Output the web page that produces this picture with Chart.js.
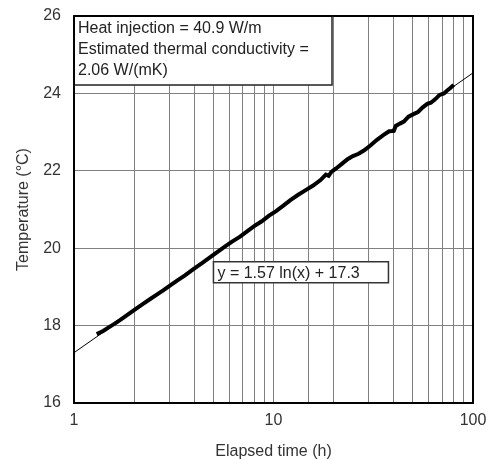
<!DOCTYPE html>
<html>
<head>
<meta charset="utf-8">
<script src="https://cdn.jsdelivr.net/npm/chart.js@4.4.0/dist/chart.umd.min.js"></script>
<style>
  body { margin: 0; background: #fff; }
  #wrap { width: 489px; height: 459px; }
</style>
</head>
<body>
<div id="wrap"><canvas id="myChart"></canvas></div>
<script>
// measured temperature vs elapsed time
var timeH = [1.3, 1.4, 1.5, 1.6, 1.7, 1.8, 2.0, 2.2, 2.4, 2.6, 2.8, 3.0, 3.3, 3.6, 4.0, 4.4, 4.8, 5.2, 5.7, 6.2,
	6.8, 7.4, 8.0, 8.7, 9.5, 10.3, 11.2, 12.2, 13.3, 14.5, 15.8, 17.2, 18.3, 18.9, 19.5, 20.6, 22.0, 23.5, 25.0, 26.7,
	28.5, 30.7, 33, 35.5, 38, 40.1, 41, 43, 45, 47.5, 50.6, 53, 56, 59, 61.5, 65, 68, 71.5, 74, 77, 80];
var tempC = [17.78, 17.86, 17.96, 18.05, 18.14, 18.23, 18.40, 18.55, 18.68, 18.80, 18.91, 19.02, 19.17, 19.30, 19.47, 19.62, 19.76, 19.89, 20.04, 20.17,
	20.30, 20.44, 20.57, 20.69, 20.84, 20.96, 21.10, 21.25, 21.38, 21.50, 21.62, 21.76, 21.90, 21.87, 21.97, 22.06, 22.18, 22.30, 22.38, 22.44,
	22.53, 22.66, 22.80, 22.92, 23.02, 23.03, 23.16, 23.22, 23.27, 23.40, 23.47, 23.52, 23.64, 23.73, 23.76, 23.86, 23.96, 24.00, 24.07, 24.14, 24.22];

// fitted trend y = 1.57 ln(x) + 17.3, end points
var fitX = [1, 100];
var fitY = [17.3, 24.53];

var yTicks = [16, 18, 20, 22, 24, 26];
var xLabels = [1, 10, 100];

var infoLines = ["Heat injection = 40.9 W/m", "Estimated thermal conductivity =", "2.06 W/(mK)"];
var eqText = "y = 1.57 ln(x) + 17.3";

var FONT = "'Liberation Sans', Arial, sans-serif";

function toPoints(xs, ys) {
	var pts = [];
	for (var i = 0; i < xs.length; i++) {
		pts.push({x: xs[i], y: ys[i]});
	}
	return pts;
}

var boxes = {
	id: 'boxes',
	beforeDraw: function(chart) {
		var c = chart.ctx;
		c.save();
		c.fillStyle = '#fff';
		c.fillRect(0, 0, chart.width, chart.height);
		c.restore();
	},
	afterDraw: function(chart) {
		var c = chart.ctx, a = chart.chartArea;
		var xs = chart.scales.x, ys = chart.scales.y;
		c.save();
		// frame of plot area
		c.strokeStyle = '#000';
		c.lineWidth = 2;
		c.strokeRect(a.left, a.top, a.right - a.left, a.bottom - a.top);

		c.font = '16px ' + FONT;
		c.textBaseline = 'middle';
		c.textAlign = 'left';

		// info box, top left corner
		var w = 258, h = 69;
		c.fillStyle = '#fff';
		c.fillRect(a.left, a.top, w, h);
		c.strokeStyle = '#222';
		c.lineWidth = 1.5;
		c.strokeRect(a.left, a.top, w, h);
		c.lineWidth = 2;
		c.strokeStyle = '#000';
		c.beginPath();
		c.moveTo(a.left, a.top); c.lineTo(a.left, a.top + h);
		c.moveTo(a.left, a.top); c.lineTo(a.left + w, a.top);
		c.stroke();
		c.fillStyle = '#222';
		for (var i = 0; i < infoLines.length; i++) {
			c.fillText(infoLines[i], a.left + 4, a.top + 13 + i * 21);
		}

		// equation label
		var ex = xs.getPixelForValue(5.0), ey = ys.getPixelForValue(19.65);
		var ew = 175, eh = 21;
		c.fillStyle = '#fff';
		c.fillRect(ex, ey, ew, eh);
		c.strokeStyle = '#333';
		c.lineWidth = 1.5;
		c.strokeRect(ex, ey, ew, eh);
		c.fillStyle = '#222';
		c.fillText(eqText, ex + 4, ey + eh / 2 + 1);
		c.restore();
	}
};

var ctx = document.getElementById('myChart');

var myChart = new Chart(ctx, {
	type: 'line',
	data: {
		datasets: [
			{
				label: 'Measured',
				data: toPoints(timeH, tempC),
				borderColor: '#000',
				borderWidth: 4,
				pointRadius: 0,
				tension: 0,
				fill: false
			},
			{
				label: 'Fit',
				data: toPoints(fitX, fitY),
				borderColor: '#000',
				borderWidth: 1,
				pointRadius: 0,
				tension: 0,
				fill: false
			}
		]
	},
	options: {
		responsive: true,
		maintainAspectRatio: false,
		animation: false,
		devicePixelRatio: 1,
		layout: {padding: {left: 0, right: 16, top: 16, bottom: 0}},
		plugins: {
			legend: {display: false},
			tooltip: {enabled: false}
		},
		scales: {
			x: {
				type: 'logarithmic',
				min: 1,
				max: 100,
				afterFit: function(s) {
					s.height = 56;
					s.paddingLeft = 0;
					s.paddingRight = 0;
				},
				grid: {color: '#808080', lineWidth: 1, drawTicks: false},
				border: {color: '#000', width: 2},
				ticks: {
					autoSkip: false,
					maxRotation: 0,
					padding: 8,
					color: '#333',
					font: {family: FONT, size: 16},
					callback: function(v) {
						return xLabels.indexOf(v) >= 0 ? String(v) : '';
					}
				},
				title: {
					display: true,
					text: 'Elapsed time (h)',
					color: '#333',
					font: {family: FONT, size: 16},
					padding: {top: 0, bottom: -2}
				}
			},
			y: {
				min: yTicks[0],
				max: yTicks[yTicks.length - 1],
				afterFit: function(s) {
					s.width = 74;
					s.paddingTop = 0;
					s.paddingBottom = 0;
				},
				grid: {color: '#808080', lineWidth: 1, drawTicks: false},
				border: {color: '#000', width: 2},
				ticks: {
					stepSize: 2,
					padding: 13,
					color: '#333',
					font: {family: FONT, size: 16}
				},
				title: {
					display: true,
					text: 'Temperature (°C)',
					color: '#333',
					font: {family: FONT, size: 16},
					padding: {top: 14, bottom: 0}
				}
			}
		}
	},
	plugins: [boxes]
});
</script>
</body>
</html>
